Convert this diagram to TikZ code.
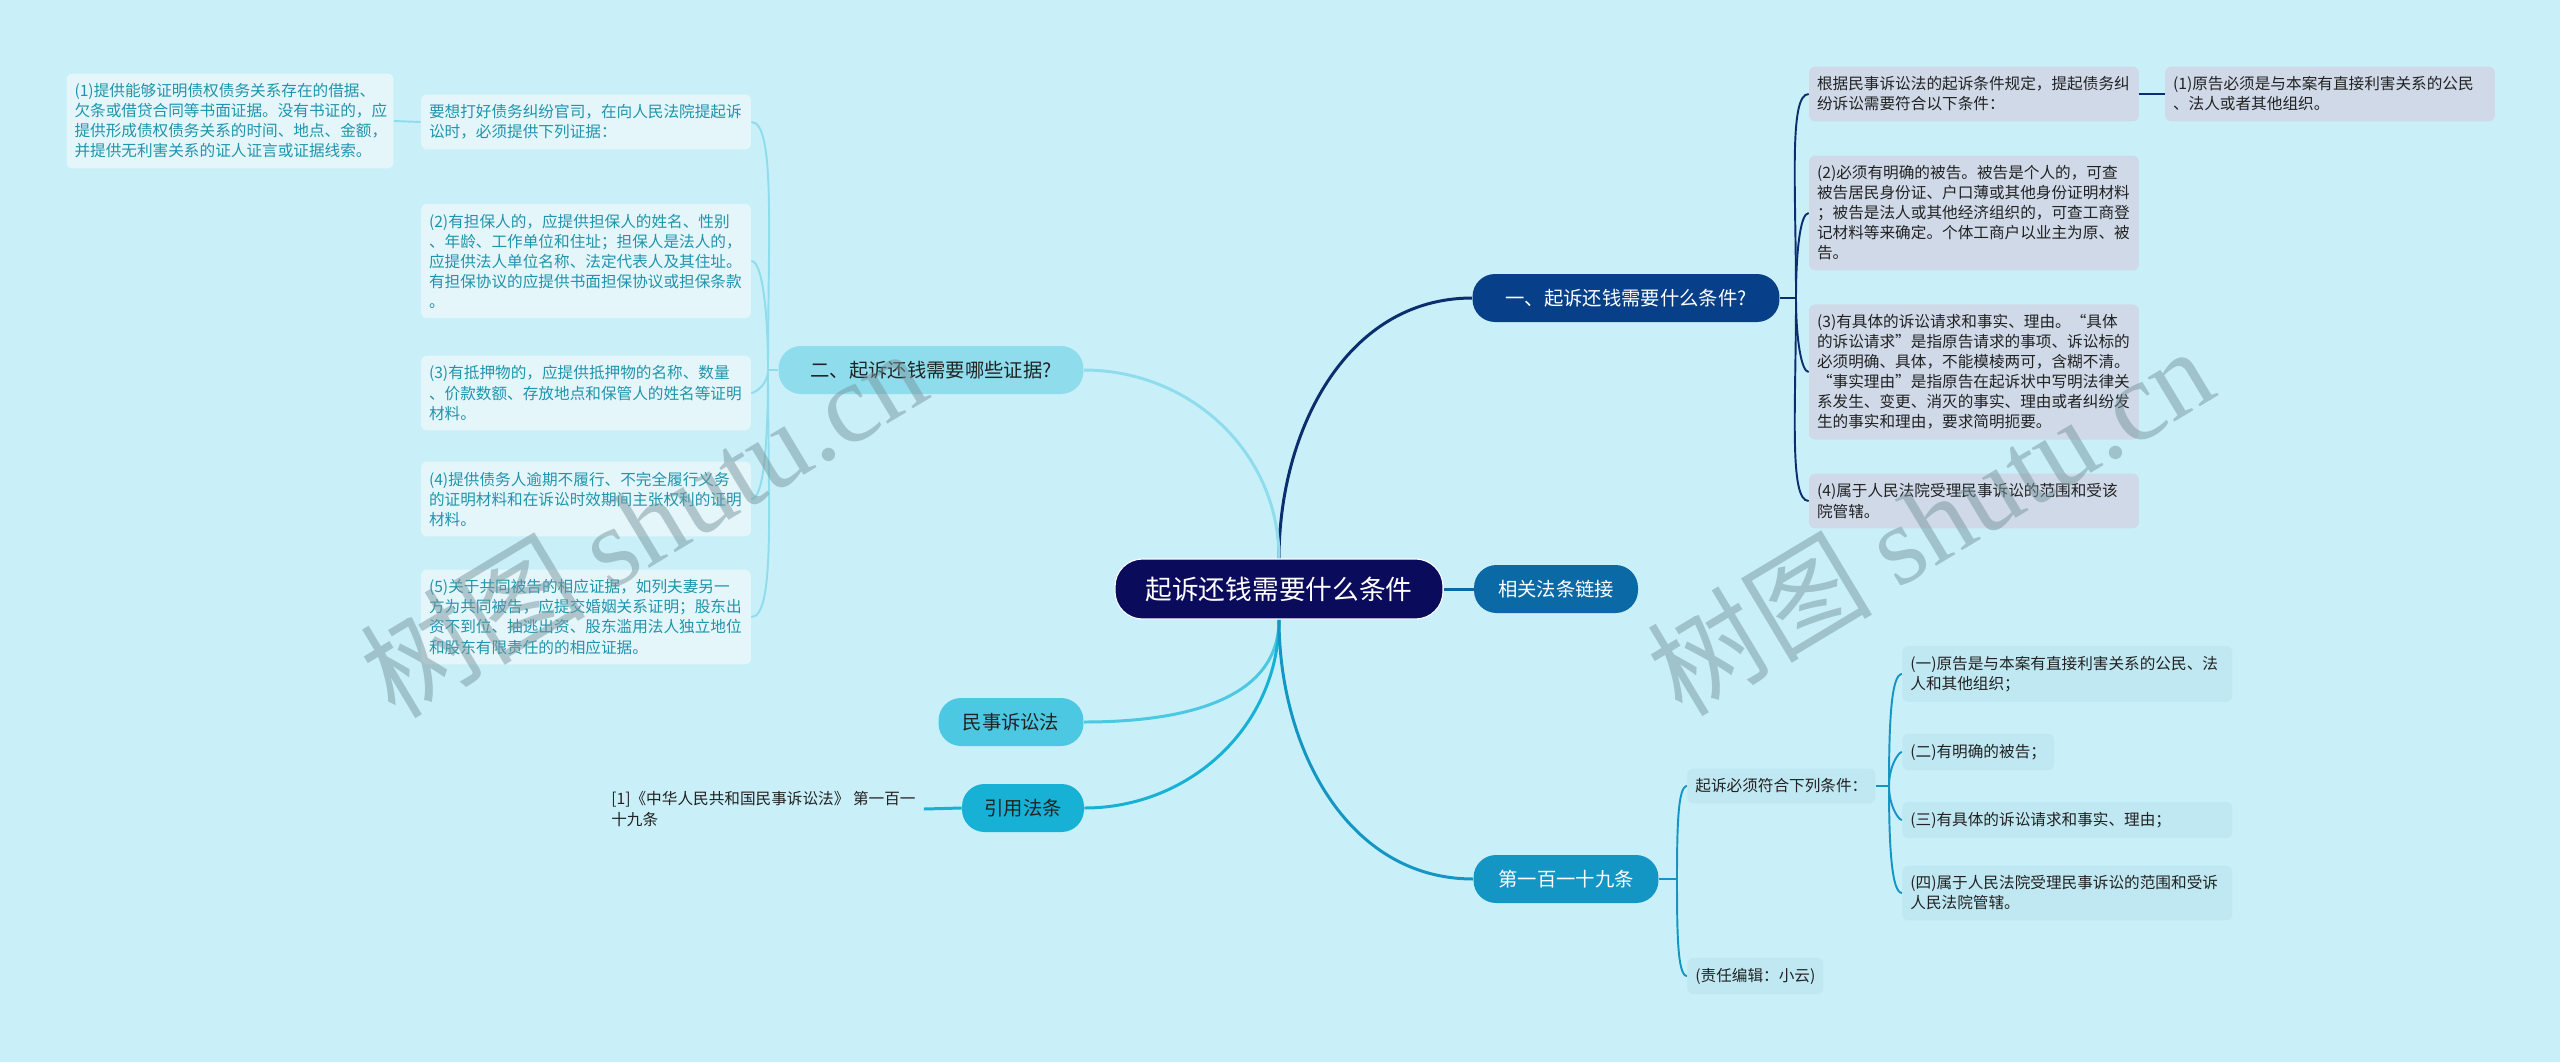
\documentclass[tikz,border=0pt]{standalone}
\usepackage{fontspec}
\setmainfont{Noto Sans CJK SC}
\newfontfamily\wmfont{Liberation Serif}
\usetikzlibrary{backgrounds}

\definecolor{bgc}{RGB}{201,240,248}
\definecolor{rootc}{RGB}{11,11,92}
\definecolor{onec}{RGB}{7,63,136}
\definecolor{onel}{RGB}{10,46,110}
\definecolor{xgc}{RGB}{11,106,166}
\definecolor{dyc}{RGB}{20,150,196}
\definecolor{twoc}{RGB}{143,220,237}
\definecolor{msc}{RGB}{76,200,226}
\definecolor{yyc}{RGB}{22,177,213}
\definecolor{lfl}{RGB}{228,246,250}
\definecolor{lft}{RGB}{32,148,172}
\definecolor{rfl}{RGB}{207,217,232}
\definecolor{bfl}{RGB}{192,232,242}
\definecolor{txt}{RGB}{34,34,34}
\definecolor{wmc}{RGB}{120,150,158}

\begin{document}
\begin{tikzpicture}[x=0.02cm, y=0.02cm,
  pill/.style={rounded corners=0.45cm, minimum height=0.96cm, inner sep=0pt,
               font=\fontsize{11}{13}\selectfont},
  rootn/.style={pill, fill=rootc, draw=white, line width=0.6pt, text=white,
                rounded corners=0.55cm, minimum height=1.2cm, minimum width=6.56cm,
                font=\fontsize{15.2}{18}\selectfont},
  leaf/.style={rounded corners=0.12cm, inner xsep=0.16cm, inner ysep=0.2cm,
               font=\fontsize{8.9}{11.4}\selectfont},
  wide/.style={text width=6.28cm, align=left},
  lfb/.style={leaf, wide, fill=lfl, text=lft},
  rtb/.style={leaf, wide, fill=rfl, text=txt},
  btb/.style={leaf, fill=bfl, text=txt},
  lk/.style={line width=1.7pt},
  lk2/.style={line width=1.1pt},
  brc/.style={out looseness=1.4, in looseness=0.25},
  wm/.style={rotate=31, text=wmc, text opacity=0.5, font=\fontsize{64}{64}\selectfont}]
\useasboundingbox (0,0) rectangle (2560,-1062);

% centre and first-level branches
\node[rootn] (root) at (1279,-589) {起诉还钱需要什么条件};
\node[pill, fill=onec, text=white, minimum width=6.14cm] (one) at (1626,-298) {一、起诉还钱需要什么条件?};
\node[pill, fill=xgc, text=white, minimum width=3.28cm] (xg) at (1556,-589) {相关法条链接};
\node[pill, fill=dyc, text=white, minimum width=3.7cm] (d119) at (1566,-879) {第一百一十九条};
\node[pill, fill=twoc, text=txt, minimum width=6.1cm] (two) at (931,-370) {二、起诉还钱需要哪些证据?};
\node[pill, fill=msc, text=txt, minimum width=2.9cm] (ms) at (1011,-722) {民事诉讼法};
\node[pill, fill=yyc, text=txt, minimum width=2.44cm] (yy) at (1023,-808) {引用法条};

% evidence (left)
\node[lfb] (yao) at (586,-122) {要想打好债务纠纷官司，在向人民法院提起诉\\讼时，必须提供下列证据：};
\node[lfb, text width=6.22cm] (p1) at (230,-121) {(1)提供能够证明债权债务关系存在的借据、\\欠条或借贷合同等书面证据。没有书证的，应\\提供形成债权债务关系的时间、地点、金额，\\并提供无利害关系的证人证言或证据线索。};
\node[lfb] (p2) at (586,-261) {(2)有担保人的，应提供担保人的姓名、性别\\、年龄、工作单位和住址；担保人是法人的，\\应提供法人单位名称、法定代表人及其住址。\\有担保协议的应提供书面担保协议或担保条款\\。};
\node[lfb] (p3) at (586,-393) {(3)有抵押物的，应提供抵押物的名称、数量\\、价款数额、存放地点和保管人的姓名等证明\\材料。};
\node[lfb] (p4) at (586,-499) {(4)提供债务人逾期不履行、不完全履行义务\\的证明材料和在诉讼时效期间主张权利的证明\\材料。};
\node[lfb] (p5) at (586,-617) {(5)关于共同被告的相应证据，如列夫妻另一\\方为共同被告，应提交婚姻关系证明；股东出\\资不到位、抽逃出资、股东滥用法人独立地位\\和股东有限责任的的相应证据。};

% conditions (top right)
\node[rtb] (gen) at (1974,-94) {根据民事诉讼法的起诉条件规定，提起债务纠\\纷诉讼需要符合以下条件：};
\node[rtb] (r1) at (2330,-94) {(1)原告必须是与本案有直接利害关系的公民\\、法人或者其他组织。};
\node[rtb] (r2) at (1974,-213) {(2)必须有明确的被告。被告是个人的，可查\\被告居民身份证、户口薄或其他身份证明材料\\；被告是法人或其他经济组织的，可查工商登\\记材料等来确定。个体工商户以业主为原、被\\告。};
\node[rtb] (r3) at (1974,-372) {(3)有具体的诉讼请求和事实、理由。“具体\\的诉讼请求”是指原告请求的事项、诉讼标的\\必须明确、具体，不能模棱两可，含糊不清。\\“事实理由”是指原告在起诉状中写明法律关\\系发生、变更、消灭的事实、理由或者纠纷发\\生的事实和理由，要求简明扼要。};
\node[rtb] (r4) at (1974,-501) {(4)属于人民法院受理民事诉讼的范围和受该\\院管辖。};

% article 119 (bottom right)
\node[btb, anchor=west] (qs) at (1687,-786) {起诉必须符合下列条件：};
\node[btb, wide, anchor=west] (c1) at (1902,-674) {(一)原告是与本案有直接利害关系的公民、法\\人和其他组织；};
\node[btb, anchor=west] (c2) at (1902,-752) {(二)有明确的被告；};
\node[btb, wide, anchor=west] (c3) at (1902,-820) {(三)有具体的诉讼请求和事实、理由；};
\node[btb, wide, anchor=west] (c4) at (1902,-893) {(四)属于人民法院受理民事诉讼的范围和受诉\\人民法院管辖。};
\node[btb, anchor=west] (zr) at (1687,-976) {(责任编辑：小云)};

% citation
\node[leaf, text=txt, align=left, anchor=west] (cite) at (603,-809) {[1]《中华人民共和国民事诉讼法》 第一百一\\十九条};

\coordinate (j1) at (1796,-298);
\coordinate (j2) at (768,-370);
\coordinate (j3) at (1677,-879);
\coordinate (j4) at (1889,-786);

\begin{scope}[on background layer]
\fill[bgc] (0,0) rectangle (2560,-1062);
% main branches
\draw[lk, onel] (root.north) to[out=90,in=180] (one.west);
\draw[lk, twoc] (root.north) to[out=90,in=0] (two.east);
\draw[lk, xgc] (root.east) -- (xg.west);
\draw[lk, msc] (root.south) to[out=-90,in=0] (ms.east);
\draw[lk, yyc] (root.south) to[out=-90,in=0] (yy.east);
\draw[lk, dyc] (root.south) to[out=-90,in=180] (d119.west);
\draw[lk, yyc] (yy.west) -- (cite.east);
% sub-branches
\draw[lk2, onel] (one.east) -- (j1);
\foreach \c/\d in {gen/90, r2/90, r3/-90, r4/-90}
  \draw[lk2, onel] (j1) to[out=\d, in=180, brc] (\c.west);
\draw[lk2, onel] (gen.east) -- (r1.west);
\draw[lk2, twoc] (two.west) -- (j2);
\foreach \c/\d in {yao/90, p2/90, p3/-90, p4/-90, p5/-90}
  \draw[lk2, twoc] (j2) to[out=\d, in=0, brc] (\c.east);
\draw[lk2, twoc] (yao.west) -- (p1.east);
\draw[lk2, dyc] (d119.east) -- (j3);
\foreach \c/\d in {qs/90, zr/-90}
  \draw[lk2, dyc] (j3) to[out=\d, in=180, brc] (\c.west);
\draw[lk2, dyc] (qs.east) -- (j4);
\foreach \c/\d in {c1/90, c2/90, c3/-90, c4/-90}
  \draw[lk2, dyc] (j4) to[out=\d, in=180, brc] (\c.west);
\end{scope}

% watermark
\node[wm] (wm1) at (643,-522) {树图 {\wmfont shutu.cn}};
\node[wm] (wm2) at (1930,-520) {树图 {\wmfont shutu.cn}};
\end{tikzpicture}
\end{document}
